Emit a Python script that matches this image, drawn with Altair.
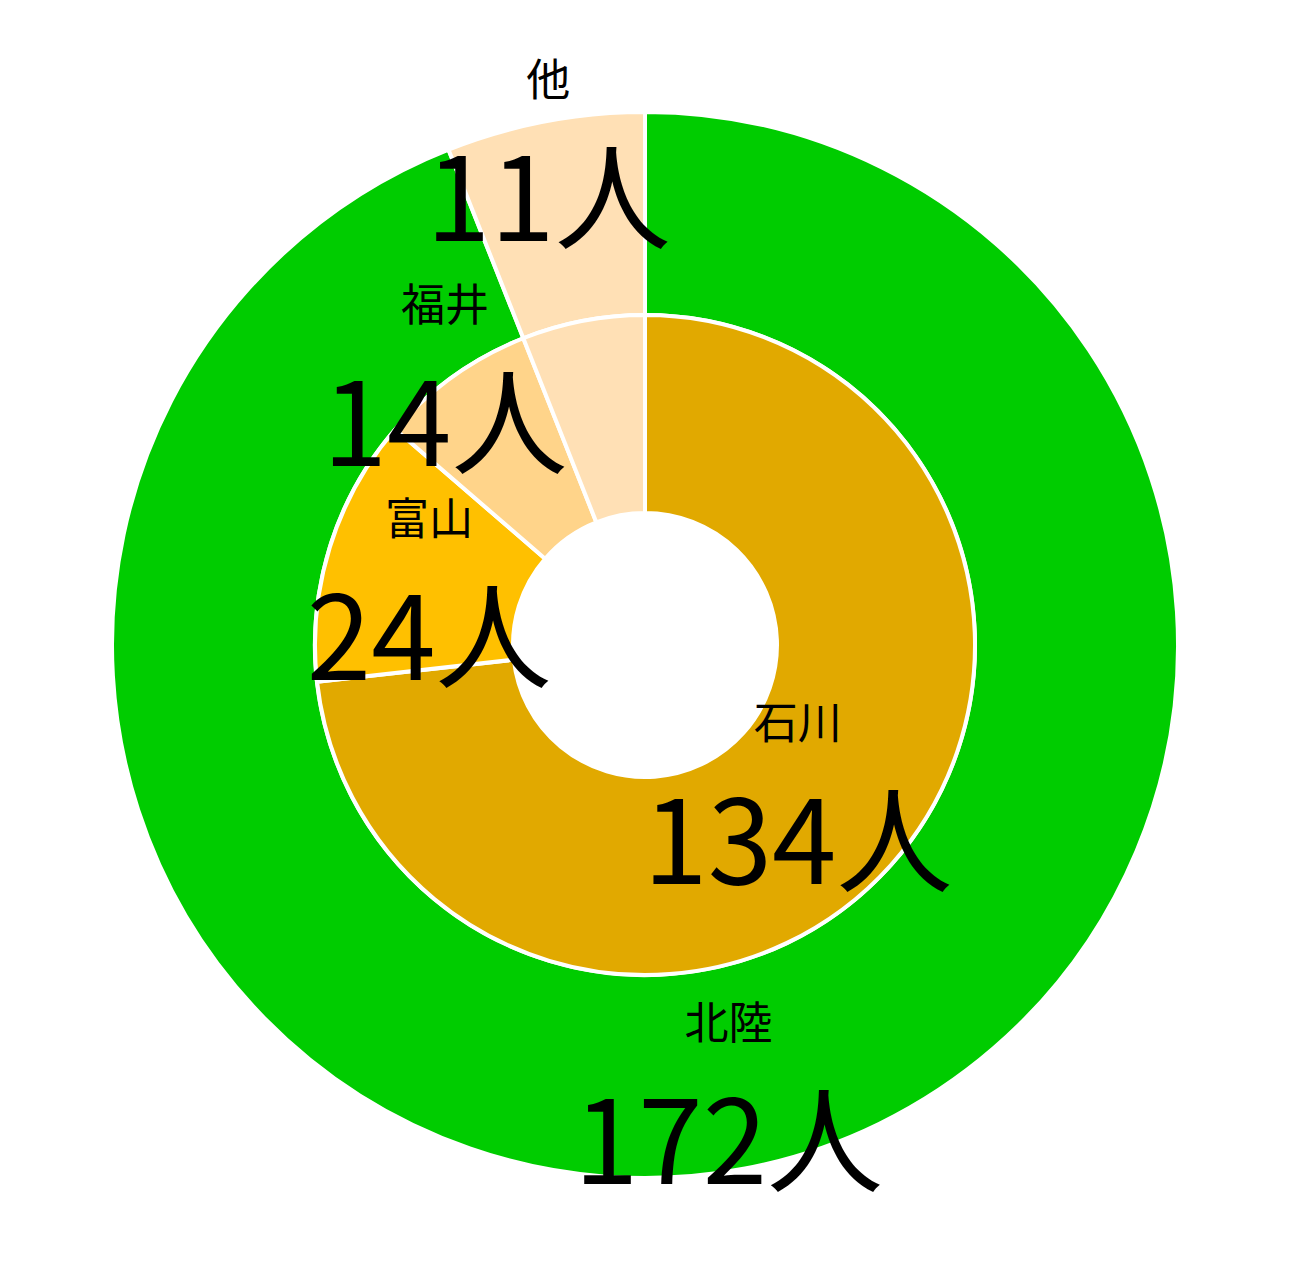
import altair as alt
import pandas as pd

# Outer ring
outer_names = ["北陸", "他"]
outer_values = [172, 11]
# Inner ring
inner_names = ["石川", "富山", "福井", "他"]
inner_values = [134, 24, 14, 11]
inner_show_label = [True, True, True, False]

categories = ["北陸", "石川", "富山", "福井", "他"]
colors = ["#00CC00", "#E1A900", "#FFC000", "#FFD48A", "#FFE0B5"]

# label distance from centre (style), per ring
outer_label_radius = {"北陸": 445, "他": 515}
inner_label_radius = {"石川": 205, "富山": 226, "福井": 345, "他": 250}

outer_df = pd.DataFrame({
    "name": outer_names,
    "value": outer_values,
    "order": list(range(len(outer_names))),
    "show": [True] * len(outer_names),
})
inner_df = pd.DataFrame({
    "name": inner_names,
    "value": inner_values,
    "order": list(range(len(inner_names))),
    "show": inner_show_label,
})

FONT = "Noto Sans CJK JP"
total = max(sum(outer_values), sum(inner_values))
theta_scale = alt.Scale(domain=[0, total])

color = alt.Color("name:N", scale=alt.Scale(domain=categories, range=colors), legend=None)


def radius_expr(d):
    expr = "250"
    for k, v in d.items():
        expr = f"datum.name == '{k}' ? {v} : ({expr})"
    return expr


def ring(df, r_in, r_out, label_r):
    base = alt.Chart(df).transform_stack(
        stack="value", as_=["v0", "v1"], groupby=[], sort=[alt.SortField("order", "ascending")]
    )
    arcs = base.mark_arc(innerRadius=r_in, outerRadius=r_out, stroke="white", strokeWidth=4).encode(
        theta=alt.Theta("v0:Q", scale=theta_scale),
        theta2="v1:Q",
        color=color,
    )
    labels = base.transform_calculate(
        mid="(datum.v0 + datum.v1) / 2",
        nm="datum.show ? datum.name : ''",
        vl="datum.show ? datum.value + '人' : ''",
        lr=radius_expr(label_r),
    ).encode(
        theta=alt.Theta("mid:Q", scale=theta_scale, stack=False),
        radius=alt.Radius("lr:Q", scale=None),
    )
    name_text = labels.mark_text(dy=-56, font=FONT, fontSize=44, color="black", baseline="middle").encode(text="nm:N")
    value_text = labels.mark_text(dy=67, font=FONT, fontSize=116, color="black", baseline="middle").encode(text="vl:N")
    return arcs, name_text, value_text


o_arc, o_name, o_val = ring(outer_df, 330, 533, outer_label_radius)
i_arc, i_name, i_val = ring(inner_df, 132, 330, inner_label_radius)

chart = alt.layer(o_arc, i_arc, o_name, o_val, i_name, i_val).properties(
    width=1274, height=1274, padding=0, autosize=alt.AutoSizeParams(type="none"), background="white"
).configure_view(stroke=None)

chart.save("out.html", embed_options={"renderer": "svg", "actions": False})
